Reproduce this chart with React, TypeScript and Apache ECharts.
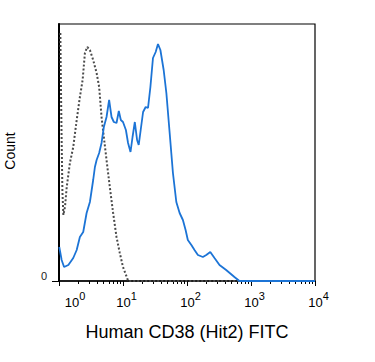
import React, { useEffect, useRef } from 'react';
import * as echarts from 'echarts';

const FONT = "'Liberation Sans', Arial, sans-serif";

// Fluorescence (log scale) positions and event counts
const blueX = [1.01, 1.10, 1.20, 1.40, 1.67, 1.89, 2.12, 2.39, 2.70, 3.04, 3.42, 3.64, 3.87, 4.24, 4.62, 5.02, 5.53, 6.07, 6.62, 7.19, 7.92, 8.60, 9.25, 10.0, 11.1, 12.0, 13.1, 14.1, 15.3, 16.6, 17.6, 18.9, 20.6, 22.6, 24.6, 26.8, 29.4, 32.4, 35.2, 38.4, 43.2, 47.6, 53.6, 60.3, 68.1, 76.7, 86.3, 95.1, 103, 117, 131, 148, 177, 200, 231, 269, 322, 409, 551, 659, 10000];
const blueY = [34, 21, 14, 16, 23, 31, 44, 49, 68, 79, 101, 114, 121, 128, 138, 154, 164, 181, 164, 159, 158, 170, 161, 159, 151, 138, 129, 144, 159, 141, 136, 151, 169, 174, 173, 194, 223, 229, 237, 231, 211, 188, 148, 108, 79, 68, 61, 51, 41, 36, 31, 26, 24, 26, 29, 23, 16, 11, 4, 0, 0];

const grayX = [1.05, 1.07, 1.10, 1.13, 1.17, 1.24, 1.32, 1.48, 1.67, 1.89, 2.12, 2.34, 2.54, 2.76, 3.04, 3.42, 3.87, 4.24, 4.62, 5.08, 5.53, 6.22, 7.01, 7.92, 8.91, 10.0, 11.6, 12.0, 10000];
const grayY = [248, 200, 140, 90, 66, 74, 94, 118, 134, 161, 184, 201, 228, 234, 231, 221, 208, 194, 164, 141, 121, 94, 68, 44, 28, 14, 3, 0, 0];

const majorTicks = [1, 10, 100, 1000, 10000];
const minorTicks = [2, 3, 4, 5, 6, 7, 8, 9, 20, 30, 40, 50, 60, 70, 80, 90, 200, 300, 400, 500, 600, 700, 800, 900, 2000, 3000, 4000, 5000, 6000, 7000, 8000, 9000];
const yTicks = [0];
const xTitle = 'Human CD38 (Hit2) FITC';
const yTitle = 'Count';

export default function App() {
  const ref = useRef<HTMLDivElement>(null);
  useEffect(() => {
    const chart = echarts.init(ref.current!, null, { renderer: 'svg' });
    const pair = (xs: number[], ys: number[]) => xs.map((x, i) => [x, ys[i]]);
    chart.setOption({
      animation: false,
      backgroundColor: '#fff',
      grid: {
        left: 59, right: 60, top: 24, bottom: 81,
        show: true, borderColor: '#000', borderWidth: 1.2,
        containLabel: false, outerBoundsMode: 'none',
      },
      xAxis: [
        {
          type: 'log', logBase: 10, min: 1, max: 10000, position: 'bottom',
          axisLine: { show: true, onZero: false, lineStyle: { color: '#000', width: 1.5 } },
          axisTick: { show: true, customValues: majorTicks, length: 5, lineStyle: { color: '#000', width: 1 } },
          splitLine: { show: false },
          minorTick: { show: false },
          axisLabel: {
            customValues: majorTicks,
            margin: 9,
            color: '#000',
            fontFamily: FONT,
            formatter: (v: number) => {
              const e = Math.round(Math.log10(v));
              return e === 0 ? `{q| }{b|10}{s|${e}}` : `{p| }{b|10}{s|${e}}`;
            },
            rich: {
              p: { width: 7, lineHeight: 19, fontSize: 11 },
              q: { width: 32, lineHeight: 19, fontSize: 11 },
              b: { fontSize: 13, lineHeight: 13, verticalAlign: 'bottom', color: '#000', fontFamily: FONT },
              s: { fontSize: 11, lineHeight: 11, verticalAlign: 'top', color: '#000', fontFamily: FONT },
            },
          },
          name: xTitle,
          nameLocation: 'middle',
          nameGap: 42,
          nameTextStyle: { fontSize: 18, color: '#000', fontFamily: FONT },
        },
        {
          type: 'log', logBase: 10, min: 1, max: 10000, position: 'bottom',
          axisLine: { show: false, onZero: false },
          axisTick: { show: true, customValues: minorTicks, length: 3, lineStyle: { color: '#000', width: 1 } },
          axisLabel: { show: false },
          splitLine: { show: false },
        },
      ],
      yAxis: {
        type: 'value', min: 0, max: 257,
        axisLine: { show: true, onZero: false, lineStyle: { color: '#000', width: 2 } },
        axisTick: { show: true, customValues: yTicks, length: 7, lineStyle: { color: '#000', width: 1 } },
        axisLabel: { customValues: yTicks, margin: 12, fontSize: 11, lineHeight: 11, color: '#222', fontFamily: FONT, verticalAlign: 'bottom' },
        splitLine: { show: false },
      },
      graphic: [
        {
          type: 'text', x: 10, y: 151, rotation: Math.PI / 2,
          style: { text: yTitle, fontSize: 14, fill: '#000', fontFamily: FONT, align: 'center', verticalAlign: 'middle', textAlign: 'center', textVerticalAlign: 'middle' },
        },
      ],
      series: [
        {
          type: 'line', xAxisIndex: 0, data: pair(grayX, grayY), showSymbol: false, symbol: 'none',
          lineStyle: { color: '#4a4a4a', width: 2, type: [2, 2] }, z: 3,
        },
        {
          type: 'line', xAxisIndex: 0, data: pair(blueX, blueY), showSymbol: false, symbol: 'none',
          lineStyle: { color: '#1c74d6', width: 1.8 }, z: 4,
        },
      ],
    });
    return () => chart.dispose();
  }, []);
  return <div ref={ref} style={{ position: 'fixed', left: 0, top: 0, width: 375, height: 362, background: '#fff' }} />;
}
